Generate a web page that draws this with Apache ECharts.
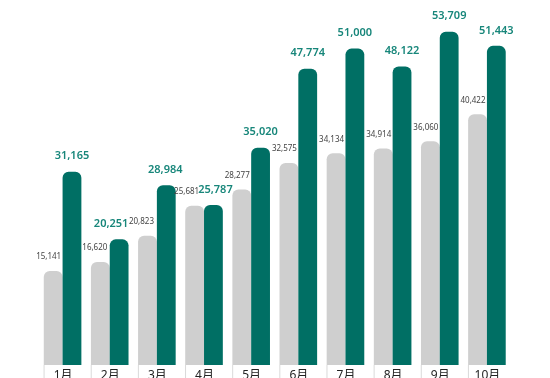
<!DOCTYPE html>
<html>
<head>
<meta charset="utf-8">
<script src="https://cdn.jsdelivr.net/npm/echarts@6/dist/echarts.min.js"></script>
<style>
  html, body { margin: 0; padding: 0; background: #ffffff; }
  #chart { width: 550px; height: 378px; }
</style>
</head>
<body>
<div id="chart"></div>
<script>
// ---- data ----
const months = ['1月', '2月', '3月', '4月', '5月', '6月', '7月', '8月', '9月', '10月'];
const prevValues = [15141, 16620, 20823, 25681, 28277, 32575, 34134, 34914, 36060, 40422];
const currValues = [31165, 20251, 28984, 25787, 35020, 47774, 51000, 48122, 53709, 51443];

// ---- styling (label nudges, not data) ----
const prevLabelNudge = [0, -1, -1.5, -3.5, 0, 0, 0, 0, 0, 0];
const currLabelNudge = [0, -8, -1, 2, 0, 0, 0, 0, 0, 0];

const TEAL = '#006f64';
const TEAL_TEXT = '#17867a';
const GRAY = '#cfcfcf';
const FONT = '"Noto Sans", "Noto Sans CJK SC", sans-serif';

const chart = echarts.init(document.getElementById('chart'), null, { renderer: 'canvas' });

const fmt = v => v.toLocaleString('en-US');

chart.setOption({
  animation: false,
  backgroundColor: '#ffffff',
  grid: { left: 39, right: 39.5, top: 11.4, bottom: 13, containLabel: false, outerBoundsMode: 'none' },
  xAxis: {
    type: 'category',
    data: months,
    axisLine: { show: false },
    axisTick: { show: false },
    axisLabel: {
      margin: 0,
      interval: 0,
      formatter: v => '{l|}{t|' + v + '}',
      rich: {
        l: { width: 1, height: 22, backgroundColor: '#dadada' },
        t: { width: 37, height: 22, lineHeight: 22, align: 'center', fontSize: 12, color: '#222', fontFamily: FONT }
      }
    }
  },
  yAxis: {
    type: 'value',
    min: 0,
    max: 57000,
    show: false,
    splitLine: { show: false }
  },
  series: [
    {
      type: 'bar',
      data: prevValues.map((v, i) => ({
        value: v,
        label: { offset: [8 + prevLabelNudge[i], 0] }
      })),
      barWidth: 18.8,
      barGap: '0%',
      itemStyle: { color: GRAY, borderRadius: [6, 6, 0, 0] },
      label: {
        show: true,
        position: 'top',
        align: 'right',
        distance: 10,
        fontSize: 8,
        color: '#444',
        fontFamily: FONT,
        formatter: p => fmt(p.value)
      }
    },
    {
      type: 'bar',
      data: currValues.map((v, i) => ({
        value: v,
        label: { offset: [currLabelNudge[i], 0] }
      })),
      barWidth: 18.8,
      barGap: '0%',
      itemStyle: { color: TEAL, borderRadius: [6, 6, 0, 0] },
      label: {
        show: true,
        position: 'top',
        distance: 10,
        fontSize: 11,
        fontWeight: 600,
        color: TEAL_TEXT,
        fontFamily: FONT,
        formatter: p => fmt(p.value)
      }
    }
  ]
});
</script>
</body>
</html>
